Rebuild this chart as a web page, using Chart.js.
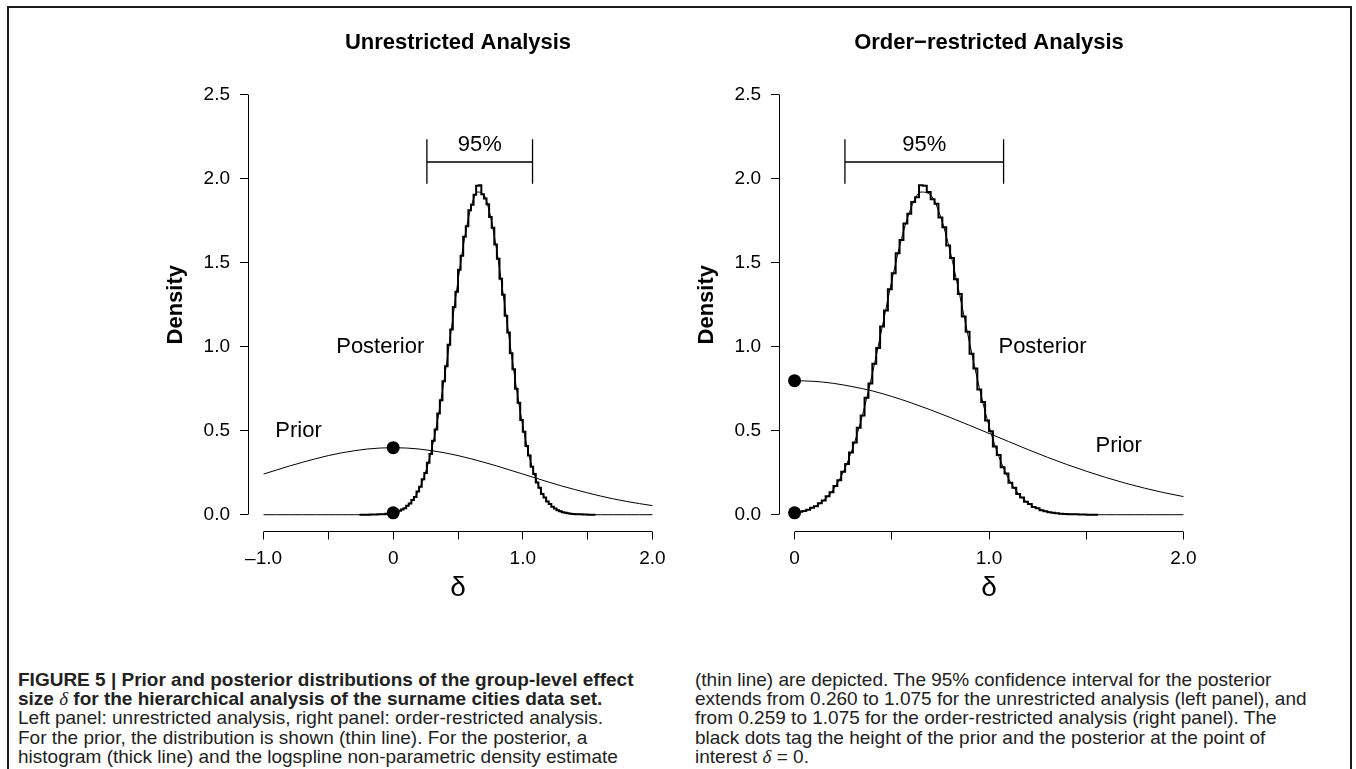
<!DOCTYPE html>
<html>
<head>
<meta charset="utf-8">
<script src="https://cdn.jsdelivr.net/npm/chart.js@4.4.1/dist/chart.umd.min.js"></script>
<style>
  body { margin: 0; background: #fff; width: 1356px; height: 769px; overflow: hidden; position: relative; }
  #frame { position: absolute; left: 7px; top: 6px; width: 1341px; height: 800px; border: 2px solid #1b1b1b; border-bottom: none; }
  canvas { position: absolute; top: 0; }
  #left { left: 0; }
  #right { left: 640px; }
  .cap { position: absolute; top: 670px; font-family: "Liberation Sans Narrow", "Arial Narrow", "Liberation Sans", sans-serif; font-size: 19px; line-height: 19.2px; color: #222; white-space: nowrap; }
  .cap i { font-family: "Liberation Serif", serif; font-style: italic; font-weight: normal; }
</style>
</head>
<body>
<div id="frame"></div>
<canvas id="left" width="690" height="625"></canvas>
<canvas id="right" width="716" height="625"></canvas>

<div class="cap" style="left:18px">
<b>FIGURE 5 | Prior and posterior distributions of the group-level effect</b><br>
<b>size <i>δ</i> for the hierarchical analysis of the surname cities data set.</b><br>
Left panel: unrestricted analysis, right panel: order-restricted analysis.<br>
For the prior, the distribution is shown (thin line). For the posterior, a<br>
histogram (thick line) and the logspline non-parametric density estimate
</div>
<div class="cap" style="left:695px">
(thin line) are depicted. The 95% confidence interval for the posterior<br>
extends from 0.260 to 1.075 for the unrestricted analysis (left panel), and<br>
from 0.259 to 1.075 for the order-restricted analysis (right panel). The<br>
black dots tag the height of the prior and the posterior at the point of<br>
interest <i>δ</i> = 0.
</div>

<script>
// ---- data ----
const yTicks = [0, 0.5, 1, 1.5, 2, 2.5];
const yTickLabels = ["0.0", "0.5", "1.0", "1.5", "2.0", "2.5"];
const xTicksLeft = [-1, -0.5, 0, 0.5, 1, 1.5, 2];
const xTickLabelsLeft = ["\u20131.0", "", "0", "", "1.0", "", "2.0"];
const xTicksRight = [0, 0.5, 1, 1.5, 2];
const xTickLabelsRight = ["0", "", "1.0", "", "2.0"];

// prior: normal (left) and half-normal (right)
const priorXLeft = [-1.0, -0.9, -0.8, -0.7, -0.6, -0.5, -0.4, -0.3, -0.2, -0.1, 0.0,
  0.1, 0.2, 0.3, 0.4, 0.5, 0.6, 0.7, 0.8, 0.9, 1.0, 1.1, 1.2, 1.3, 1.4, 1.5, 1.6, 1.7, 1.8, 1.9, 2.0];
const priorLeft = [0.242, 0.266, 0.290, 0.312, 0.333, 0.352, 0.368, 0.381, 0.391, 0.397, 0.399,
  0.397, 0.391, 0.381, 0.368, 0.352, 0.333, 0.312, 0.290, 0.266, 0.242, 0.218, 0.194, 0.171, 0.150,
  0.130, 0.111, 0.094, 0.079, 0.066, 0.054];
const priorXRight = [0.0, 0.1, 0.2, 0.3, 0.4, 0.5, 0.6, 0.7, 0.8, 0.9, 1.0,
  1.1, 1.2, 1.3, 1.4, 1.5, 1.6, 1.7, 1.8, 1.9, 2.0];
const priorRight = [0.798, 0.794, 0.782, 0.762, 0.737, 0.704, 0.666, 0.624, 0.579, 0.532, 0.484,
  0.436, 0.388, 0.342, 0.299, 0.259, 0.222, 0.188, 0.158, 0.131, 0.108];

// logspline posterior density (thin line)
const densX = [-1.0, -0.95, -0.9, -0.85, -0.8, -0.75, -0.7, -0.65, -0.6, -0.55, -0.5, -0.45, -0.4, -0.35, -0.3,
  -0.25, -0.2, -0.15, -0.1, -0.05, 0.0, 0.05, 0.1, 0.15, 0.2, 0.25, 0.3, 0.35, 0.4, 0.45, 0.5, 0.55, 0.6,
  0.65, 0.7, 0.75, 0.8, 0.85, 0.9, 0.95, 1.0, 1.05, 1.1, 1.15, 1.2, 1.25, 1.3, 1.35, 1.4, 1.45, 1.5, 1.55,
  1.6, 1.65, 1.7, 1.75, 1.8, 1.85, 1.9, 1.95, 2.0];
const densPost = [0, 0, 0, 0, 0, 0, 0, 0, 0, 0, 0, 0, 0, 0, 0,
  0.000, 0.000, 0.001, 0.002, 0.005, 0.011, 0.023, 0.045, 0.085, 0.151, 0.253, 0.400, 0.596, 0.839, 1.113,
  1.392, 1.643, 1.829, 1.921, 1.903, 1.778, 1.568, 1.304, 1.023, 0.757, 0.528, 0.348, 0.216, 0.127, 0.070,
  0.037, 0.018, 0.008, 0.004, 0.002, 0.001, 0.000,
  0, 0, 0, 0, 0, 0, 0, 0, 0];

// posterior MCMC histograms (thick line), bins of width 0.02
const binWidth = 0.02;
const histStartLeft = -0.26;
const histLeft = [0.000, 0.000, 0.000, 0.000, 0.001, 0.001, 0.001, 0.002, 0.002, 0.003, 0.005, 0.007, 0.009,
  0.013, 0.017, 0.023, 0.031, 0.039, 0.053, 0.066, 0.087, 0.106, 0.138, 0.166, 0.211, 0.249, 0.310, 0.362,
  0.441, 0.507, 0.603, 0.682, 0.795, 0.884, 1.012, 1.103, 1.237, 1.327, 1.458, 1.541, 1.655, 1.718, 1.812,
  1.846, 1.905, 1.958, 1.962, 1.908, 1.882, 1.848, 1.772, 1.709, 1.608, 1.524, 1.405, 1.310, 1.184, 1.085,
  0.961, 0.866, 0.750, 0.667, 0.564, 0.494, 0.409, 0.352, 0.286, 0.242, 0.192, 0.160, 0.124, 0.102, 0.078,
  0.063, 0.047, 0.037, 0.027, 0.021, 0.015, 0.011, 0.008, 0.006, 0.004, 0.003, 0.002, 0.002, 0.001, 0.001,
  0.000, 0.000, 0.000];
const histStartRight = 0.0;
const histRight = [0.012, 0.018, 0.022, 0.030, 0.041, 0.051, 0.068, 0.084, 0.110, 0.133, 0.171, 0.205, 0.256,
  0.302, 0.371, 0.430, 0.518, 0.590, 0.697, 0.781, 0.898, 0.993, 1.121, 1.216, 1.343, 1.437, 1.556, 1.636,
  1.733, 1.792, 1.862, 1.890, 1.962, 1.958, 1.921, 1.878, 1.852, 1.770, 1.712, 1.603, 1.528, 1.402, 1.314,
  1.180, 1.089, 0.958, 0.870, 0.746, 0.671, 0.561, 0.497, 0.406, 0.355, 0.283, 0.245, 0.190, 0.161, 0.123,
  0.103, 0.077, 0.064, 0.046, 0.038, 0.027, 0.021, 0.015, 0.011, 0.008, 0.006, 0.004, 0.003, 0.002, 0.002,
  0.001, 0.001, 0.000, 0.000, 0.000];

// 95% interval and heights at delta = 0
const ciLeft = [0.260, 1.075];
const ciRight = [0.259, 1.075];
const dotsLeft = [0.399, 0.011];
const dotsRight = [0.798, 0.011];

const FONT = '"Liberation Sans", Arial, Helvetica, sans-serif';

function xy(xs, ys) {
  return xs.map((x, i) => ({ x: x, y: ys[i] }));
}

function histPoints(start, heights) {
  const pts = [{ x: start, y: 0 }];
  heights.forEach((h, i) => pts.push({ x: start + i * binWidth, y: h }));
  pts.push({ x: start + heights.length * binWidth, y: 0 });
  return pts;
}

function alignPx(p) {
  return Math.round(p - 0.5) + 0.5;
}

const panelDecor = {
  id: "panelDecor",
  afterDraw(chart) {
    const p = chart.options.plugins.panelDecor;
    const ctx = chart.ctx;
    const xs = chart.scales.x, ys = chart.scales.y, a = chart.chartArea;
    ctx.save();
    ctx.strokeStyle = "#000";
    ctx.lineWidth = 1;
    // R style axis lines, only over the tick range
    ctx.beginPath();
    const ax = alignPx(a.left);
    ctx.moveTo(ax, alignPx(ys.getPixelForValue(yTicks[0])));
    ctx.lineTo(ax, alignPx(ys.getPixelForValue(yTicks[yTicks.length - 1])));
    const ay = alignPx(a.bottom);
    ctx.moveTo(alignPx(xs.getPixelForValue(p.xTicks[0])), ay);
    ctx.lineTo(alignPx(xs.getPixelForValue(p.xTicks[p.xTicks.length - 1])), ay);
    ctx.stroke();

    ctx.fillStyle = "#000";
    ctx.textAlign = "center";
    // panel title
    ctx.font = "bold 22px " + FONT;
    ctx.textBaseline = "alphabetic";
    ctx.fillText(p.title, (a.left + a.right) / 2, 49);
    // text labels
    ctx.font = "22px " + FONT;
    ctx.textBaseline = "middle";
    p.labels.forEach(l => {
      ctx.fillText(l.text, xs.getPixelForValue(l.x), ys.getPixelForValue(l.y));
    });
    ctx.restore();
  }
};

function buildPanel(canvas, cfg) {
  const bracket = [
    { x: cfg.ci[0], y: 2.235 }, { x: cfg.ci[0], y: 1.97 }, { x: cfg.ci[0], y: 2.10 },
    { x: cfg.ci[1], y: 2.10 }, { x: cfg.ci[1], y: 2.235 }, { x: cfg.ci[1], y: 1.97 }
  ];
  return new Chart(canvas, {
    type: "line",
    data: {
      datasets: [
        { data: cfg.dots.map(v => ({ x: 0, y: v })), showLine: false, pointRadius: 6.5,
          pointBackgroundColor: "#000", pointBorderWidth: 0, clip: false },
        { data: cfg.hist, stepped: "before", borderColor: "#000", borderWidth: 2, pointRadius: 0 },
        { data: cfg.dens, borderColor: "#000", borderWidth: 1, pointRadius: 0, cubicInterpolationMode: "monotone" },
        { data: cfg.prior, borderColor: "#000", borderWidth: 1, pointRadius: 0, cubicInterpolationMode: "monotone" },
        { data: bracket, borderColor: "#000", borderWidth: 1.3, pointRadius: 0, tension: 0 }
      ]
    },
    options: {
      responsive: false,
      animation: false,
      devicePixelRatio: 1,
      layout: { padding: { left: cfg.padLeft, right: cfg.padRight, top: 78, bottom: 13.5 } },
      plugins: {
        legend: { display: false },
        tooltip: { enabled: false },
        panelDecor: { title: cfg.title, xTicks: cfg.xTicks, labels: cfg.labels }
      },
      scales: {
        x: {
          type: "linear",
          min: cfg.xMin,
          max: cfg.xMax,
          afterBuildTicks: s => { s.ticks = cfg.xTicks.map(v => ({ value: v })); },
          afterFit: s => { s.height = 80; },
          border: { display: false },
          grid: { drawOnChartArea: false, drawTicks: true, tickLength: 8, color: "#000", lineWidth: 1 },
          ticks: {
            autoSkip: false, maxRotation: 0, padding: 8, color: "#000",
            font: { size: 19, family: FONT },
            callback: (v, i) => cfg.xLabels[i]
          },
          title: { display: true, text: "\u03b4", color: "#000", font: { size: 28, family: FONT }, padding: { top: 0, bottom: 6 } }
        },
        y: {
          type: "linear",
          min: -0.1,
          max: 2.6,
          afterBuildTicks: s => { s.ticks = yTicks.map(v => ({ value: v })); },
          afterFit: s => { s.width = 100; },
          border: { display: false },
          grid: { drawOnChartArea: false, drawTicks: true, tickLength: 8, color: "#000", lineWidth: 1 },
          ticks: {
            autoSkip: false, padding: 10, color: "#000",
            font: { size: 19, family: FONT },
            callback: (v, i) => yTickLabels[i]
          },
          title: { display: true, text: "Density", color: "#000", font: { size: 22, weight: "bold", family: FONT }, padding: { top: 14.4, bottom: 0 } }
        }
      }
    },
    plugins: [panelDecor]
  });
}

buildPanel(document.getElementById("left"), {
  title: "Unrestricted Analysis",
  xMin: -1.12, xMax: 2.12,
  xTicks: xTicksLeft, xLabels: xTickLabelsLeft,
  padLeft: 148, padRight: 22,
  prior: xy(priorXLeft, priorLeft),
  dens: xy(densX, densPost),
  hist: histPoints(histStartLeft, histLeft),
  ci: ciLeft,
  dots: dotsLeft,
  labels: [
    { text: "95%", x: 0.6675, y: 2.20 },
    { text: "Posterior", x: -0.10, y: 1.0 },
    { text: "Prior", x: -0.73, y: 0.5 }
  ]
});

const densRightX = densX.filter(x => x >= 0);
const densRight = densPost.slice(densX.length - densRightX.length);

buildPanel(document.getElementById("right"), {
  title: "Order\u2212restricted Analysis",
  xMin: -0.08, xMax: 2.08,
  xTicks: xTicksRight, xLabels: xTickLabelsRight,
  padLeft: 39, padRight: 157,
  prior: xy(priorXRight, priorRight),
  dens: xy(densRightX, densRight),
  hist: histPoints(histStartRight, histRight),
  ci: ciRight,
  dots: dotsRight,
  labels: [
    { text: "95%", x: 0.667, y: 2.20 },
    { text: "Posterior", x: 1.275, y: 1.0 },
    { text: "Prior", x: 1.667, y: 0.41 }
  ]
});
</script>
</body>
</html>
